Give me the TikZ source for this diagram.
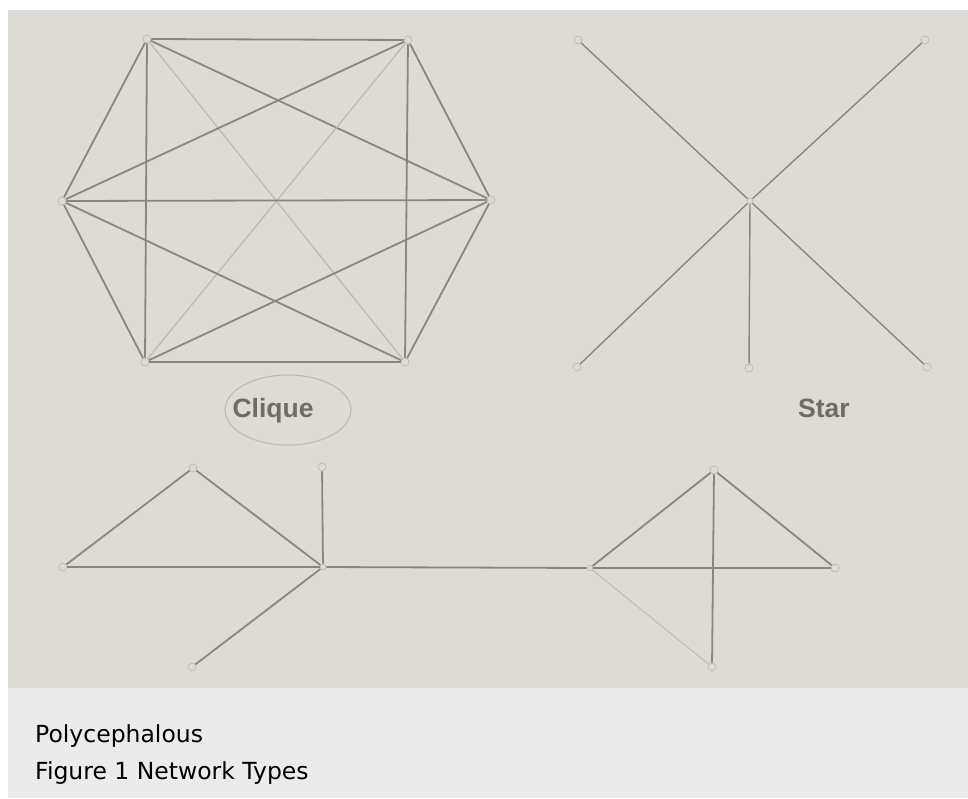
\documentclass[tikz,border=0pt]{standalone}
\usepackage{fontspec}
\setmainfont{DejaVu Sans}
\newfontfamily\scanfont{Liberation Sans}
\definecolor{scanBg}{HTML}{DEDBD7}
\definecolor{captionBg}{HTML}{EBEBEB}
\definecolor{inkLine}{HTML}{8A8581}
\definecolor{inkFaint}{HTML}{BFBAB5}
\definecolor{inkText}{HTML}{6F6B67}
\tikzset{
  vertex/.style={circle, draw=inkFaint, fill=scanBg, inner sep=0pt, minimum size=8pt, line width=0.8pt},
  tie/.style={draw=inkLine, line width=1.8pt},
  faintTie/.style={draw=inkFaint, line width=1.4pt},
  typeLabel/.style={text=inkText, font=\scanfont\bfseries\fontsize{26.5}{30}\selectfont, inner sep=0pt, anchor=base},
  captionText/.style={font=\fontsize{23.5}{28}\selectfont, anchor=base west, inner sep=0pt}
}

\begin{document}
\begin{tikzpicture}[x=1pt,y=-1pt]
\useasboundingbox (0,0) rectangle (968,798);
\fill[white] (0,0) rectangle (968,798);
\fill[scanBg] (8,10) rectangle (968,688);
\fill[captionBg] (8,688) rectangle (968,798);
% clique
\node[vertex] (cqTopL) at (147,39) {};
\node[vertex] (cqTopR) at (408,40) {};
\node[vertex] (cqLeft) at (62,201) {};
\node[vertex] (cqRight) at (491,200) {};
\node[vertex] (cqBotL) at (145,362) {};
\node[vertex] (cqBotR) at (405,362) {};
\draw[tie] (cqTopL) -- (cqTopR);
\draw[tie] (cqTopL) -- (cqLeft);
\draw[tie] (cqTopL) -- (cqRight);
\draw[tie] (cqTopL) -- (cqBotL);
\draw[faintTie] (cqTopL) -- (cqBotR);
\draw[tie] (cqTopR) -- (cqLeft);
\draw[tie] (cqTopR) -- (cqRight);
\draw[faintTie] (cqTopR) -- (cqBotL);
\draw[tie] (cqTopR) -- (cqBotR);
\draw[tie] (cqLeft) -- (cqRight);
\draw[tie] (cqLeft) -- (cqBotL);
\draw[tie] (cqLeft) -- (cqBotR);
\draw[tie] (cqRight) -- (cqBotL);
\draw[tie] (cqRight) -- (cqBotR);
\draw[tie] (cqBotL) -- (cqBotR);
\node[typeLabel] (cliqueLabel) at (273,417) {Clique};
\draw[inkFaint, line width=1.2pt] (288,410) ellipse [x radius=63, y radius=35];
% star
\node[vertex, minimum size=6pt] (stCentre) at (750,201) {};
\node[vertex] (stTopL) at (578,40) {};
\node[vertex] (stTopR) at (925,40) {};
\node[vertex] (stBotL) at (577,367) {};
\node[vertex] (stBot) at (749,368) {};
\node[vertex] (stBotR) at (927,367) {};
\foreach \leaf in {stTopL,stTopR,stBotL,stBot,stBotR}
  \draw[tie, line width=1.4pt] (stCentre) -- (\leaf);
\node[typeLabel] (starLabel) at (824,417) {Star};
% polycephalous
\node[vertex] (pcTop) at (193,468) {};
\node[vertex] (pcLeft) at (63,567) {};
\node[vertex, minimum size=6pt] (pcHub) at (323,567) {};
\node[vertex] (pcUp) at (322,467) {};
\node[vertex] (pcDown) at (192,667) {};
\node[vertex, minimum size=6pt] (pcBridge) at (590,568) {};
\node[vertex] (pcApex) at (714,470) {};
\node[vertex] (pcRight) at (835,568) {};
\node[vertex] (pcFoot) at (712,667) {};
\draw[tie] (pcTop) -- (pcLeft);
\draw[tie] (pcTop) -- (pcHub);
\draw[tie] (pcLeft) -- (pcHub);
\draw[tie] (pcUp) -- (pcHub);
\draw[tie] (pcHub) -- (pcDown);
\draw[tie] (pcHub) -- (pcBridge);
\draw[tie] (pcBridge) -- (pcApex);
\draw[tie] (pcApex) -- (pcRight);
\draw[tie] (pcBridge) -- (pcRight);
\draw[tie] (pcApex) -- (pcFoot);
\draw[faintTie, line width=1pt] (pcBridge) -- (pcFoot);
% caption
\node[captionText] (typeName) at (35,742) {Polycephalous};
\node[captionText] (figCaption) at (35,779) {Figure 1 Network Types};
\end{tikzpicture}
\end{document}
